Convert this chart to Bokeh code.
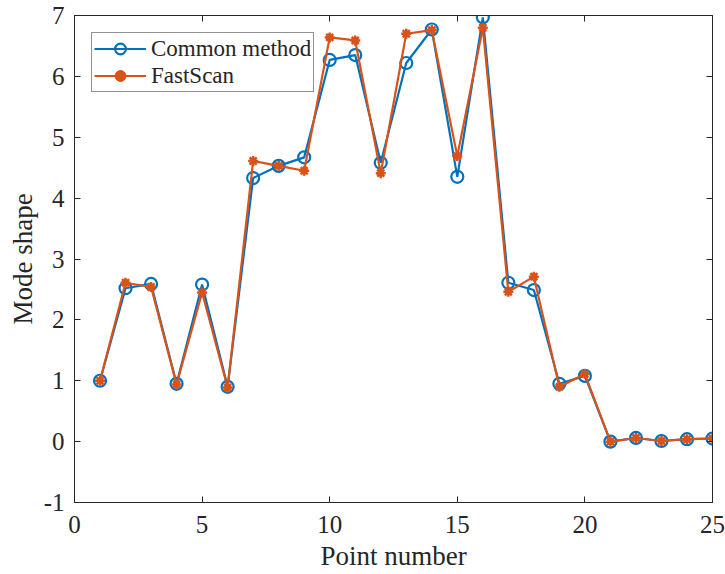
from bokeh.plotting import figure
from bokeh.models import LinearAxis, Range1d, FixedTicker, Legend, LegendItem
from bokeh.embed import file_html
from bokeh.resources import INLINE

points = list(range(1, 26))
common = [1.00, 2.52, 2.59, 0.95, 2.58, 0.90, 4.33, 4.53, 4.67, 6.27, 6.35, 4.58, 6.22, 6.77,
          4.35, 6.97, 2.61, 2.49, 0.95, 1.08, 0.00, 0.06, 0.01, 0.04, 0.05]
fastscan = [1.00, 2.61, 2.54, 0.94, 2.45, 0.89, 4.61, 4.53, 4.45, 6.64, 6.59, 4.41, 6.70, 6.76,
            4.69, 6.80, 2.46, 2.71, 0.90, 1.11, 0.00, 0.06, 0.01, 0.04, 0.05]
x_ticks = [0, 5, 10, 15, 20, 25]
y_ticks = [-1, 0, 1, 2, 3, 4, 5, 6, 7]
y_tick_labels = {-1: "-1"}

BLUE = "#0072BD"
ORANGE = "#D95319"
FONT = "Liberation Serif"
INK = "#262626"

p = figure(width=725, height=574, output_backend="svg", toolbar_location=None,
           x_range=Range1d(0, 25), y_range=Range1d(-1, 7),
           min_border_left=74, min_border_right=13, min_border_top=15, min_border_bottom=72)
p.background_fill_color = "white"
p.border_fill_color = "white"
p.outline_line_color = INK
p.outline_line_width = 1
p.xgrid.visible = False
p.ygrid.visible = False

for ax in (p.xaxis[0], p.yaxis[0]):
    ax.major_label_text_font = FONT
    ax.major_label_text_font_size = "25px"
    ax.major_label_text_color = INK
    ax.axis_label_text_font = FONT
    ax.axis_label_text_font_size = "27px"
    ax.axis_label_text_font_style = "normal"
    ax.axis_label_text_color = INK
    ax.axis_line_color = INK
    ax.major_tick_line_color = INK
    ax.major_tick_in = 6
    ax.major_tick_out = 0
    ax.minor_tick_line_color = None

p.xaxis[0].ticker = FixedTicker(ticks=x_ticks)
p.yaxis[0].ticker = FixedTicker(ticks=y_ticks)
p.yaxis[0].major_label_overrides = y_tick_labels
p.xaxis[0].axis_label = "Point number"
p.yaxis[0].axis_label = "Mode shape"
p.xaxis[0].major_label_standoff = 13
p.yaxis[0].major_label_standoff = 10
p.xaxis[0].axis_label_standoff = 5
p.yaxis[0].axis_label_standoff = 3

top = LinearAxis(ticker=FixedTicker(ticks=x_ticks),
                 major_label_overrides={t: "" for t in x_ticks},
                 major_tick_in=6, major_tick_out=0, minor_tick_line_color=None,
                 axis_line_color=INK, major_tick_line_color=INK, major_label_standoff=0)
right = LinearAxis(ticker=FixedTicker(ticks=y_ticks),
                   major_label_overrides={t: "" for t in y_ticks},
                   major_tick_in=6, major_tick_out=0, minor_tick_line_color=None,
                   axis_line_color=INK, major_tick_line_color=INK, major_label_standoff=0)
p.add_layout(top, "above")
p.add_layout(right, "right")

l1 = p.line(points, common, line_color=BLUE, line_width=2.2)
s1 = p.scatter(points, common, marker="circle", size=12, line_color=BLUE, line_width=2.2,
               fill_color=None)
l2 = p.line(points, fastscan, line_color=ORANGE, line_width=2.2)
s2 = p.scatter(points, fastscan, marker="asterisk", size=10, line_color=ORANGE, line_width=2.5)
s2b = p.scatter(points, fastscan, marker="circle", size=6, line_color=ORANGE, fill_color=ORANGE)

legend = Legend(items=[LegendItem(label="Common method", renderers=[l1, s1]),
                       LegendItem(label="FastScan", renderers=[l2, s2, s2b])],
                location="top_left")
legend.margin = 17
legend.padding = 2
legend.spacing = 0
legend.glyph_width = 52
legend.glyph_height = 27
legend.label_height = 27
legend.label_standoff = 5
legend.label_text_font = FONT
legend.label_text_font_size = "23px"
legend.label_text_color = INK
legend.border_line_color = INK
legend.border_line_width = 1
legend.background_fill_color = "white"
legend.background_fill_alpha = 1
p.add_layout(legend, "center")

open("out.html", "w").write(file_html(p, INLINE))
